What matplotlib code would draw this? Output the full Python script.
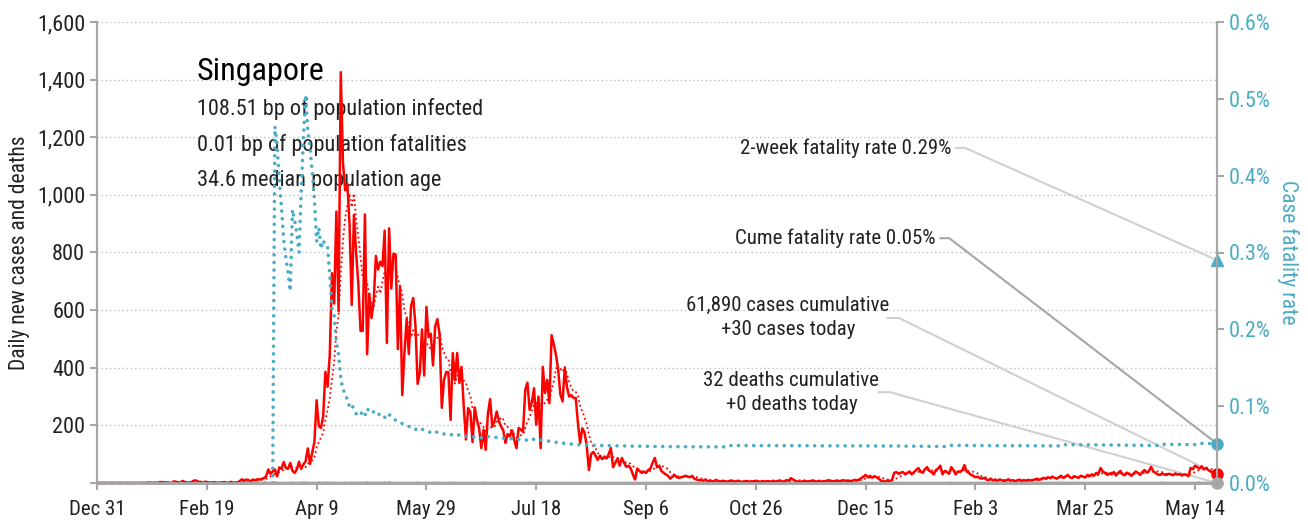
import numpy as np
import pandas as pd
import matplotlib
matplotlib.use("Agg")
import matplotlib.pyplot as plt
from matplotlib.ticker import FuncFormatter

plt.rcParams['font.family'] = ['Roboto Condensed', 'Archivo Narrow', 'PT Sans Narrow',
                               'Fira Sans Condensed', 'DejaVu Sans']

# daily new cases, one list per month, starting 2019-12-31
cases_dec19 = [0]
cases_jan20 = [0]*22 + [1, 2, 0, 1, 0, 3, 3, 3, 3]
cases_feb20 = [2, 0, 0, 6, 4, 2, 3, 7, 3, 2, 2, 3, 8, 9, 5, 3, 2, 4, 3, 1,
               1, 3, 1, 1, 1, 2, 3, 2, 0]
cases_mar20 = [4, 2, 2, 2, 7, 13, 8, 12, 10, 6, 12, 9, 13, 12, 14, 17, 23, 47, 32, 40,
               47, 23, 54, 49, 73, 52, 49, 70, 42, 35, 47]
cases_apr20 = [74, 49, 65, 75, 120, 66, 106, 142, 287, 198, 191, 233, 386, 334, 447,
               728, 623, 942, 596, 1426, 1111, 1016, 1037, 897, 618, 931, 799, 690, 528, 528]
cases_may20 = [932, 447, 657, 573, 632, 788, 741, 768, 753, 876, 486, 884, 675, 796, 793,
               465, 682, 305, 451, 570, 448, 614, 642, 548, 344, 383, 533, 373, 611, 506, 518]
cases_jun20 = [408, 544, 569, 517, 261, 357, 385, 385, 219, 451, 357, 451, 347, 403, 266,
               151, 260, 247, 142, 262, 218, 191, 121, 185, 115, 240, 291, 196, 213, 248]
cases_jul20 = [215, 196, 183, 139, 170, 162, 183, 150, 121, 191, 185, 178, 323, 348, 254,
               280, 329, 202, 300, 121, 403, 312, 358, 277, 513, 481, 445, 393, 307, 283, 399]
cases_aug20 = [333, 300, 305, 295, 295, 207, 139, 190, 175, 130, 45, 100, 108, 95, 80,
               95, 83, 90, 85, 100, 121, 55, 70, 85, 60, 87, 70, 56, 60, 51, 30]
cases_sep20 = [12, 50, 42, 35, 40, 35, 45, 50, 70, 87, 55, 60, 42, 35, 30,
               25, 15, 22, 28, 20, 18, 20, 22, 25, 22, 20, 25, 15, 12, 10]
cases_oct20 = [10, 8, 12, 6, 9, 5, 7, 11, 6, 4, 8, 6, 5, 7, 9, 4,
               6, 8, 5, 3, 6, 7, 4, 6, 5, 8, 6, 4, 7, 5, 6]
cases_nov20 = [6, 5, 8, 4, 7, 9, 5, 6, 10, 8, 17, 12, 7, 5, 6,
               4, 8, 6, 5, 7, 9, 6, 5, 8, 4, 6, 7, 10, 8, 6]
cases_dec20 = [7, 9, 6, 8, 10, 7, 9, 6, 8, 11, 9, 12, 17, 22, 28, 20,
               25, 18, 24, 19, 15, 8, 6, 5, 9, 7, 10, 35, 38, 32, 36]
cases_jan21 = [38, 30, 35, 40, 30, 38, 45, 52, 40, 35, 48, 55, 42, 38, 30, 45,
               50, 60, 30, 42, 38, 32, 55, 45, 30, 40, 38, 45, 62, 40, 35]
cases_feb21 = [28, 25, 20, 22, 17, 15, 18, 12, 10, 14, 9, 11, 8, 12,
               10, 7, 9, 13, 8, 10, 6, 9, 12, 7, 10, 8, 11, 9]
cases_mar21 = [10, 12, 15, 11, 14, 18, 15, 20, 17, 22, 18, 15, 20, 25, 18, 22,
               28, 20, 17, 24, 20, 18, 25, 22, 19, 28, 24, 30, 26, 35, 32]
cases_apr21 = [52, 40, 35, 28, 33, 30, 38, 26, 35, 42, 30, 27, 36, 31, 25,
               33, 40, 35, 28, 38, 45, 36, 42, 56, 40, 35, 30, 28, 32, 30]
cases_may21 = [28, 32, 30, 27, 33, 29, 31, 26, 30, 28, 24, 52,
               48, 60, 55, 50, 58, 47, 52, 45, 40, 38, 35, 30]

# reported deaths
death_dates = ['2020-03-21', '2020-03-29', '2020-04-02', '2020-04-03', '2020-04-04',
               '2020-04-10', '2020-04-12', '2020-04-13', '2020-04-14', '2020-04-17',
               '2020-04-22', '2020-04-25', '2020-04-28', '2020-04-30', '2020-05-02',
               '2020-05-05', '2020-05-07', '2020-05-10', '2020-05-12', '2020-05-25',
               '2020-06-02', '2020-06-10', '2020-06-24', '2020-07-15', '2020-10-13',
               '2021-01-23', '2021-03-14', '2021-04-29', '2021-05-16']
death_counts = [2, 1, 1, 1, 1, 1, 1, 1, 1, 1, 1, 1, 1, 1, 2,
                1, 1, 1, 2, 1, 1, 1, 1, 1, 1, 1, 1, 1, 1]

two_week_cfr = 0.29  # percent

header = "Singapore"
facts = ["108.51 bp of population infected",
         "0.01 bp of population fatalities",
         "34.6 median population age"]

# ---- build series
daily_cases = pd.Series(
    cases_dec19 + cases_jan20 + cases_feb20 + cases_mar20 + cases_apr20 + cases_may20
    + cases_jun20 + cases_jul20 + cases_aug20 + cases_sep20 + cases_oct20 + cases_nov20
    + cases_dec20 + cases_jan21 + cases_feb21 + cases_mar21 + cases_apr21 + cases_may21,
    dtype=float)
dates = pd.date_range('2019-12-31', periods=len(daily_cases), freq='D')
daily_cases.index = dates

daily_deaths = pd.Series(0.0, index=dates)
for d, n in zip(death_dates, death_counts):
    daily_deaths[pd.Timestamp(d)] += n

avg7 = daily_cases.rolling(7, min_periods=1).mean()
cfr = (daily_deaths.cumsum() / daily_cases.cumsum() * 100).fillna(0)

teal = '#4bacc6'
axis_grey = '#a6a6a6'
lead_grey = '#d0d0d0'
txt = '#222222'

fig = plt.figure(figsize=(13.08, 5.24), dpi=100)
ax = fig.add_axes([97/1308, 41/524, 1120/1308, 461/524])
ax2 = ax.twinx()

ax.plot(dates, daily_deaths, color=axis_grey, lw=2, zorder=2)
ax.plot(dates, avg7, color='red', lw=1.3, ls=(0, (1, 1.6)), zorder=3)
ax.plot(dates, daily_cases, color='red', lw=1.8, zorder=4)
ax.plot(dates[-1], daily_cases.iloc[-1], 'o', color='red', ms=8, clip_on=False, zorder=6)
ax.plot(dates[-1], daily_deaths.iloc[-1], 'o', color=axis_grey, ms=8, clip_on=False, zorder=6)

ax2.plot(dates, cfr, color=teal, lw=2.6, ls=(0, (0.01, 2.1)), dash_capstyle='round')
ax2.plot(dates[-1], cfr.iloc[-1], 'o', color=teal, ms=8, clip_on=False)
ax2.plot(dates[-1], two_week_cfr, '^', color=teal, ms=9, clip_on=False)

# axes styling
ax.set_xlim(dates[0], dates[-1])
ax.set_ylim(0, 1600)
ax2.set_ylim(0, 0.6)
ax.set_yticks(np.arange(0, 1601, 200))
ax.yaxis.set_major_formatter(FuncFormatter(lambda v, p: '' if v == 0 else f'{v:,.0f}'))
ax2.set_yticks(np.arange(0, 0.61, 0.1))
ax2.yaxis.set_major_formatter(FuncFormatter(lambda v, p: f'{v:.1f}%'))
tick_dates = dates[::50]
ax.set_xticks(tick_dates)
ax.set_xticklabels([f'{d:%b} {d.day}' for d in tick_dates])

ax.grid(axis='y', color='#c0c0c0', lw=1, ls=(0, (1, 2)))
ax.set_axisbelow(True)
for a in (ax, ax2):
    a.spines['top'].set_visible(False)
    a.spines['left'].set_color(axis_grey)
    a.spines['right'].set_color(axis_grey)
    a.spines['bottom'].set_color(axis_grey)
    a.spines['left'].set_linewidth(1.5)
    a.spines['right'].set_linewidth(1.5)
    a.spines['bottom'].set_linewidth(2)
ax.tick_params(axis='y', colors=axis_grey, labelcolor=txt, labelsize=16, length=5, width=1.5)
ax.tick_params(axis='x', colors=axis_grey, labelcolor=txt, labelsize=15, length=5,
               width=1.5, pad=7)
ax2.tick_params(axis='y', colors=axis_grey, labelcolor=teal, labelsize=16, length=5, width=1.5)

ax.set_ylabel('Daily new cases and deaths', fontsize=15.5, color=txt, labelpad=5)
ax2.set_ylabel('Case fatality rate', fontsize=15.5, color=teal, rotation=270, labelpad=20)

# title block
ax.text(0.089, 0.874, header, transform=ax.transAxes, fontsize=23, color='black')
for i, line in enumerate(facts):
    ax.text(0.089, 0.798 - i*0.077, line, transform=ax.transAxes, fontsize=16, color=txt)

# labels with leader lines to the end points
def leader(text, tx, ty, ha, x0, x1, yend, color, ly=None):
    ax.text(tx, ty, text, transform=ax.transAxes, ha=ha, va='center',
            fontsize=15, color=txt, linespacing=1.3)
    ly = ty if ly is None else ly
    ax.plot([x0, x1, 1.0], [ly, ly, yend], transform=ax.transAxes,
            color=color, lw=1.5, clip_on=False, zorder=1)

leader('2-week fatality rate 0.29%', 0.763, 0.727, 'right', 0.767, 0.775,
       two_week_cfr / 0.6, lead_grey)
leader('Cume fatality rate 0.05%', 0.749, 0.531, 'right', 0.753, 0.761,
       cfr.iloc[-1] / 0.6, axis_grey)
leader('61,890 cases cumulative\n+30 cases today', 0.617, 0.359, 'center',
       0.706, 0.716, daily_cases.iloc[-1] / 1600, lead_grey, 0.358)
leader('32 deaths cumulative\n+0 deaths today', 0.62, 0.196, 'center',
       0.698, 0.708, daily_deaths.iloc[-1] / 1600, lead_grey, 0.197)

fig.savefig('out.png', dpi=100)
